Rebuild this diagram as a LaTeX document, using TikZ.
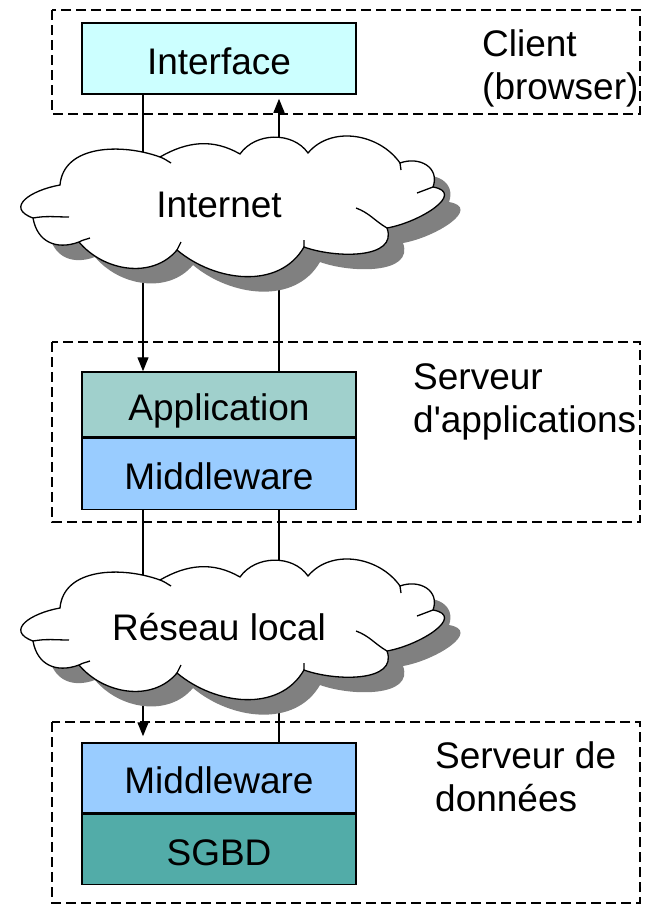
\documentclass[tikz,border=0pt]{standalone}
\usepackage{fontspec}
\setmainfont{Liberation Sans}
\usetikzlibrary{arrows.meta}

\definecolor{ifacefill}{HTML}{CCFFFF}
\definecolor{appfill}{HTML}{A0D0CC}
\definecolor{mwfill}{HTML}{99CCFF}
\definecolor{dbfill}{HTML}{52ACA8}
\definecolor{shadowgray}{HTML}{808080}

\tikzset{
  layer/.style={draw=black, line width=1.5pt, minimum width=274pt, inner sep=0pt,
    text height=31pt, text depth=0pt, font=\fontsize{37}{43}\selectfont},
  tier/.style={draw=black, line width=1.3pt, dash pattern=on 10pt off 5pt},
  % anchored on the baseline of the last line
  tierlabel/.style={anchor=base west, align=left, inner sep=0pt,
    font=\fontsize{37}{42.5}\selectfont},
  netlabel/.style={anchor=base, inner sep=0pt, font=\fontsize{37}{43}\selectfont},
  conn/.style={draw=black, line width=1.3pt},
  tip/.style={-{Triangle[length=14pt,width=11pt]}},
  % cloud outline, relative to its centre
  cloudshape/.pic={
    \fill[shadowgray, shift={(16,-15)}]
      (-200,-13) to[out=160,in=190,looseness=1.8] (-173,20)
      to[out=85,in=160] (-73,48)
      to[out=30,in=150] (7,51)
      to[out=55,in=125] (75,52)
      to[out=50,in=125] (167,42)
      to[out=20,in=70,looseness=1.3] (200,18)
      to[out=-10,in=10,looseness=1.4] (154,-23)
      to[out=-70,in=-20] (71,-42)
      to[out=-120,in=-40] (-56,-45)
      to[out=-130,in=-50] (-154,-37)
      to[out=200,in=-80,looseness=1.2] (-200,-13) -- cycle;
    \filldraw[fill=white, draw=black, line width=1.3pt]
      (-200,-13) to[out=160,in=190,looseness=1.8] (-173,20)
      to[out=85,in=160] (-73,48)
      to[out=30,in=150] (7,51)
      to[out=55,in=125] (75,52)
      to[out=50,in=125] (167,42)
      to[out=20,in=70,looseness=1.3] (200,18)
      to[out=-10,in=10,looseness=1.4] (154,-23)
      to[out=-70,in=-20] (71,-42)
      to[out=-120,in=-40] (-56,-45)
      to[out=-130,in=-50] (-154,-37)
      to[out=200,in=-80,looseness=1.2] (-200,-13) -- cycle;
    % short inner strokes where the puffs overlap
    \draw[line width=1.3pt]
      (-200,-13) to[out=10,in=180] (-164,-12)
      (-73,48) to[out=-20,in=150] (-62,42)
      (167,42) to[out=-80,in=95] (168,35)
      (200,18) to[out=200,in=20] (184,12)
      (154,-23) to[out=150,in=-20] (123,-3)
      (71,-42) to[out=90,in=-90] (71,-35)
      (-56,-45) to[out=60,in=-120] (-52,-37)
      (-154,-37) to[out=30,in=200] (-143,-33);
  }
}

\begin{document}
\begin{tikzpicture}[x=1pt, y=1pt]
  \useasboundingbox (0,0) rectangle (652,-906);

  % tier frames
  \draw[tier] (52,-10) rectangle (640,-114);
  \draw[tier] (52,-342) rectangle (640,-522);
  \draw[tier] (52,-722) rectangle (640,-903);

  % tier captions
  \node[tierlabel] (clientlbl) at (482,-99) {Client\\(browser)};
  \node[tierlabel] (applbl) at (413,-432) {Serveur\\d\textquotesingle applications};
  \node[tierlabel] (datalbl) at (435,-811) {Serveur de\\donn\'ees};

  % software layers
  \node[layer, fill=ifacefill, minimum height=71pt] (iface) at (219,-58.5) {Interface};
  \node[layer, fill=appfill, minimum height=65pt] (app) at (219,-404.5) {Application};
  \node[layer, fill=mwfill, minimum height=71pt, anchor=north] (mwapp) at (app.south) {Middleware};
  \node[layer, fill=mwfill, minimum height=70pt] (mwdb) at (219,-778) {Middleware};
  \node[layer, fill=dbfill, minimum height=70pt, anchor=north] (sgbd) at (mwdb.south) {SGBD};

  % columns of the two links
  \coordinate (lx) at (143,0);
  \coordinate (rx) at (279,0);

  % links between the tiers (behind the clouds)
  \draw[conn, tip] (iface.south -| lx) -- (app.north -| lx);
  \draw[conn, tip, shorten >=4pt] (app.north -| rx) -- (iface.south -| rx);
  \draw[conn, tip, shorten >=6pt] (mwapp.south -| lx) -- (mwdb.north -| lx);
  \draw[conn] (mwdb.north -| rx) -- (mwapp.south -| rx);

  % networks
  \pic (inet) at (233,-205) {cloudshape};
  \node[netlabel] (inetlbl) at (219,-217) {Internet};
  \pic (lan) at (233,-628) {cloudshape};
  \node[netlabel] (lanlbl) at (219,-640) {R\'eseau local};
\end{tikzpicture}
\end{document}
